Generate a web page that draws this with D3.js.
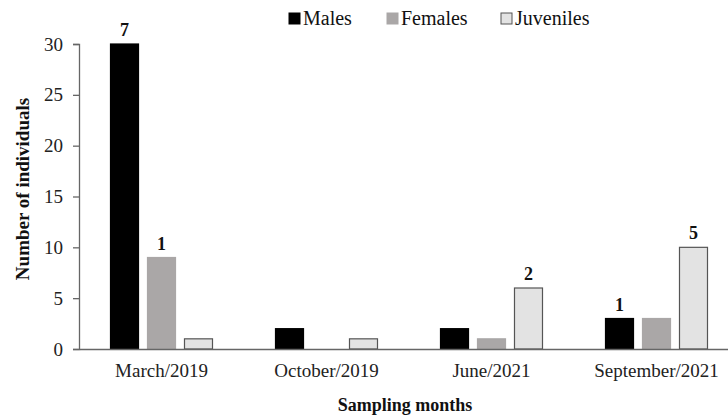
<!DOCTYPE html>
<html>
<head>
<meta charset="utf-8">
<script src="https://cdn.jsdelivr.net/npm/d3@7"></script>
<style>
  body { margin: 0; background: #fff; }
  svg { display: block; font-family: "Liberation Serif", "Times New Roman", serif; }
</style>
</head>
<body>
<svg id="drawing_region"></svg>
<script>
const months = ["March/2019", "October/2019", "June/2021", "September/2021"];
const series = ["Males", "Females", "Juveniles"];
const males = [30, 2, 2, 3];
const females = [9, 0, 1, 3];
const juveniles = [1, 1, 6, 10];
// numbers written above some bars: [month index, series index, label]
const barNotes = [[0, 0, "7"], [0, 1, "1"], [2, 2, "2"], [3, 0, "1"], [3, 2, "5"]];
const yTicks = [0, 5, 10, 15, 20, 25, 30];

const values = [males, females, juveniles];
const fills = ["#000000", "#aaa7a7", "#e3e3e3"];
const strokes = ["#000000", "#aaa7a7", "#555555"];

const width = 728, height = 416;
const marginLeft = 79, plotBottom = 349, plotTop = 44;
const serif = "Liberation Serif, Times New Roman, serif";

const svg = d3.select("#drawing_region")
    .attr("width", width)
    .attr("height", height)
    .attr("font-family", serif);

const x0 = d3.scaleBand()
    .domain(months)
    .range([marginLeft, marginLeft + 660]);

const x1 = d3.scaleBand()
    .domain(series)
    .range([31, 134])
    .paddingInner(0.216);

const y = d3.scaleLinear()
    .domain([0, 30])
    .range([plotBottom, plotTop]);

// bars
const groups = svg.append("g")
  .selectAll("g")
  .data(months)
  .join("g")
    .attr("transform", d => `translate(${x0(d)},0)`);

groups.selectAll("rect")
  .data((m, i) => series.map((s, j) => ({ s: s, j: j, v: values[j][i] })).filter(d => d.v > 0))
  .join("rect")
    .attr("x", d => x1(d.s) + 0.5)
    .attr("y", d => y(d.v))
    .attr("width", x1.bandwidth() - 1)
    .attr("height", d => plotBottom - y(d.v))
    .attr("fill", d => fills[d.j])
    .attr("stroke", d => strokes[d.j])
    .attr("stroke-width", 1.2);

// notes above bars
svg.append("g")
  .selectAll("text")
  .data(barNotes)
  .join("text")
    .attr("x", d => x0(months[d[0]]) + x1(series[d[1]]) + x1.bandwidth() / 2)
    .attr("y", d => y(values[d[1]][d[0]]) - 8)
    .attr("text-anchor", "middle")
    .attr("font-size", "18px")
    .attr("font-weight", "bold")
    .attr("fill", "#111")
    .text(d => d[2]);

// y axis
const yAxis = svg.append("g")
    .attr("transform", `translate(${marginLeft},0)`)
    .call(d3.axisLeft(y).tickValues(yTicks).tickSize(6).tickPadding(10));
yAxis.attr("font-family", serif);
yAxis.select(".domain").attr("stroke", "#666").attr("stroke-width", 1.3);
yAxis.selectAll(".tick line").attr("stroke", "#666").attr("stroke-width", 1.3);
yAxis.selectAll(".tick text")
    .attr("font-size", "19px")
    .attr("fill", "#222");

// x axis
const xAxis = svg.append("g")
    .attr("transform", `translate(0,${plotBottom})`)
    .call(d3.axisBottom(x0).tickSize(0).tickPadding(15));
xAxis.attr("font-family", serif);
xAxis.select(".domain").attr("stroke", "#666").attr("stroke-width", 1.3);
xAxis.selectAll(".tick text")
    .attr("font-size", "19px")
    .attr("fill", "#222");

// axis titles
svg.append("text")
    .attr("transform", `translate(29,189) rotate(-90)`)
    .attr("text-anchor", "middle")
    .attr("font-size", "19px")
    .attr("font-weight", "bold")
    .attr("fill", "#111")
    .text("Number of individuals");

svg.append("text")
    .attr("x", 405)
    .attr("y", 411)
    .attr("text-anchor", "middle")
    .attr("font-size", "18px")
    .attr("font-weight", "bold")
    .attr("fill", "#111")
    .text("Sampling months");

// legend
const legendX = [289, 387, 501];
const legend = svg.append("g")
  .selectAll("g")
  .data(series)
  .join("g")
    .attr("transform", (d, i) => `translate(${legendX[i]},13)`);
legend.append("rect")
    .attr("width", 11)
    .attr("height", 11)
    .attr("fill", (d, i) => fills[i])
    .attr("stroke", (d, i) => i === 2 ? "#555" : fills[i]);
legend.append("text")
    .attr("x", 14)
    .attr("y", 12)
    .attr("font-size", "20px")
    .attr("fill", "#111")
    .text(d => d);
</script>
</body>
</html>
